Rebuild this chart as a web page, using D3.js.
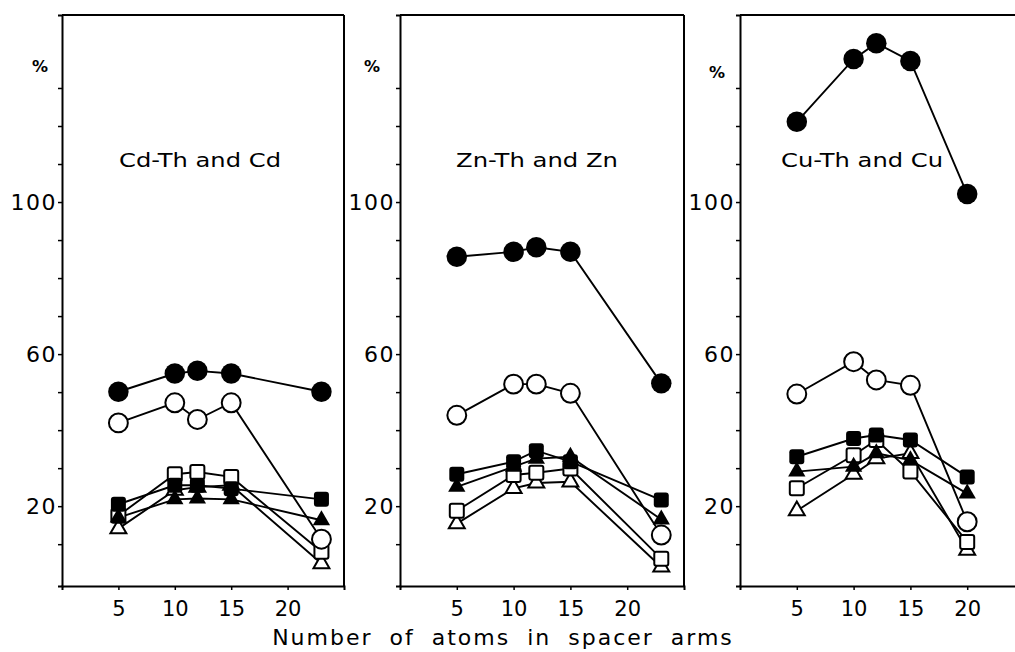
<!DOCTYPE html>
<html>
<head>
<meta charset="utf-8">
<script src="https://cdn.jsdelivr.net/npm/d3@7"></script>
<style>
  body { margin: 0; background: #fff; }
  text { font-family: "DejaVu Sans", sans-serif; fill: #000; }
</style>
</head>
<body>
<div id="chart"></div>
<script>
// spacer arm lengths (x values) per panel
const xCdZn = [5, 10, 12, 15, 23];
const xCu = [5, 10, 12, 15, 20];

// series order: filled circle, open circle, filled square, filled triangle, open square, open triangle
const seriesKeys = ["fc", "oc", "fs", "ft", "os", "ot"];

const cdValues = [
  [50.1, 54.9, 55.6, 54.9, 50.1],
  [41.9, 47.2, 42.8, 47.2, 11.3],
  [20.5, 25.5, 25.5, 24.6, 21.8],
  [17.0, 21.8, 22.0, 21.8, 16.3],
  [17.5, 28.4, 29.0, 27.7, 8.0],
  [14.1, 24.2, 25.0, 25.5, 4.9]
];
const znValues = [
  [85.6, 86.9, 88.1, 86.9, 52.3],
  [43.9, 52.1, 52.1, 49.7, 12.4],
  [28.4, 31.7, 34.6, 31.7, 21.6],
  [25.1, 30.4, 32.5, 33.0, 16.5],
  [18.8, 28.2, 28.8, 29.9, 6.2],
  [15.4, 24.7, 26.1, 26.4, 4.0]
];
const cuValues = [
  [121.1, 137.6, 141.8, 137.1, 102.1],
  [49.5, 58.0, 53.2, 51.8, 15.9],
  [33.0, 37.8, 38.7, 37.4, 27.7],
  [29.1, 30.4, 33.9, 32.1, 23.3],
  [24.7, 33.4, 37.4, 29.1, 10.6],
  [18.8, 28.4, 32.5, 33.9, 8.4]
];

const panelTitles = ["Cd-Th and Cd", "Zn-Th and Zn", "Cu-Th and Cu"];
const yTickLabels = [20, 60, 100];
const yTicks = [10, 20, 30, 40, 50, 60, 70, 80, 90, 100, 110, 120, 130];
const xTicks = [5, 10, 15, 20];
const xLabel = "Number of atoms in spacer arms";

const W = 1015, H = 652;
const plotTop = 15, plotBottom = 586;
const panels = [
  { title: panelTitles[0], x: xCdZn, values: cdValues, left: 62, right: 344, titleX: 200, pctX: 40, pctY: 72, border: true },
  { title: panelTitles[1], x: xCdZn, values: znValues, left: 400, right: 684, titleX: 537, pctX: 372, pctY: 72, border: true },
  { title: panelTitles[2], x: xCu, values: cuValues, left: 740, right: 1024, titleX: 862, pctX: 717, pctY: 78, border: false }
];

const svg = d3.select("#chart").append("svg")
  .attr("width", W).attr("height", H);

const y = d3.scaleLinear().domain([-1, 149.2]).range([plotBottom, plotTop]);

const markerDraw = {
  fc: g => g.append("path").attr("d", d3.symbol(d3.symbolCircle, 330)()).attr("fill", "#000"),
  oc: g => g.append("path").attr("d", d3.symbol(d3.symbolCircle, 280)()).attr("fill", "#fff").attr("stroke", "#000").attr("stroke-width", 2),
  fs: g => g.append("rect").attr("x", -7.5).attr("y", -7.5).attr("width", 15).attr("height", 15).attr("rx", 3).attr("fill", "#000"),
  ft: g => g.append("path").attr("d", d3.symbol(d3.symbolTriangle, 130)()).attr("fill", "#000"),
  os: g => g.append("rect").attr("x", -7).attr("y", -7).attr("width", 14).attr("height", 14).attr("rx", 2).attr("fill", "#fff").attr("stroke", "#000").attr("stroke-width", 2),
  ot: g => g.append("path").attr("d", d3.symbol(d3.symbolTriangle, 110)()).attr("fill", "#fff").attr("stroke", "#000").attr("stroke-width", 2)
};

// draw back to front so filled circles end on top
const drawOrder = [5, 4, 3, 2, 1, 0];

panels.forEach(p => {
  const x = d3.scaleLinear().domain([0, 25]).range([p.left, p.right]);
  const g = svg.append("g");

  // frame: top border and right border
  g.append("line").attr("x1", p.left).attr("x2", Math.min(p.right, W + 10))
    .attr("y1", plotTop).attr("y2", plotTop).attr("stroke", "#000").attr("stroke-width", 2);
  if (p.border) {
    g.append("line").attr("x1", p.right).attr("x2", p.right)
      .attr("y1", plotTop).attr("y2", plotBottom).attr("stroke", "#000").attr("stroke-width", 2);
  }

  // y axis
  const ya = g.append("g").attr("transform", `translate(${p.left},0)`)
    .call(d3.axisLeft(y).tickValues(yTicks).tickSizeOuter(0).tickSize(4)
      .tickFormat(d => yTickLabels.includes(d) ? d : ""));
  ya.select(".domain").attr("stroke-width", 2);
  ya.selectAll(".tick line").attr("stroke-width", 1.5);
  ya.selectAll(".tick text").attr("font-size", 22).attr("letter-spacing", 1.5)
    .attr("font-family", "DejaVu Sans").attr("x", -5);

  // x axis
  const xa = g.append("g").attr("transform", `translate(0,${plotBottom})`)
    .call(d3.axisBottom(x).tickValues(xTicks).tickSizeOuter(0).tickSize(4));
  xa.select(".domain").attr("stroke-width", 2);
  xa.selectAll(".tick line").attr("stroke-width", 1.5);
  xa.selectAll(".tick text").attr("font-size", 21).attr("font-family", "DejaVu Sans")
    .attr("y", 15);

  // percent label
  g.append("text").attr("x", p.pctX).attr("y", p.pctY)
    .attr("text-anchor", "middle").attr("font-size", 16).attr("font-weight", "bold")
    .text("%");

  // panel title
  g.append("text").attr("x", p.titleX).attr("y", 167)
    .attr("text-anchor", "middle").attr("font-size", 19)
    .attr("textLength", 162).attr("lengthAdjust", "spacingAndGlyphs")
    .text(p.title);

  const line = d3.line().x((d, i) => x(p.x[i])).y(d => y(d));

  drawOrder.forEach(si => {
    const vals = p.values[si];
    g.append("path").datum(vals)
      .attr("d", line).attr("fill", "none")
      .attr("stroke", "#000").attr("stroke-width", 1.9);
  });
  drawOrder.forEach(si => {
    const vals = p.values[si];
    const key = seriesKeys[si];
    vals.forEach((v, i) => {
      const mg = g.append("g").attr("transform", `translate(${x(p.x[i])},${y(v)})`);
      markerDraw[key](mg);
    });
  });
});

svg.append("text").attr("x", 503).attr("y", 645)
  .attr("text-anchor", "middle").attr("font-size", 22)
  .attr("letter-spacing", 2).attr("word-spacing", 8)
  .text(xLabel);
</script>
</body>
</html>
